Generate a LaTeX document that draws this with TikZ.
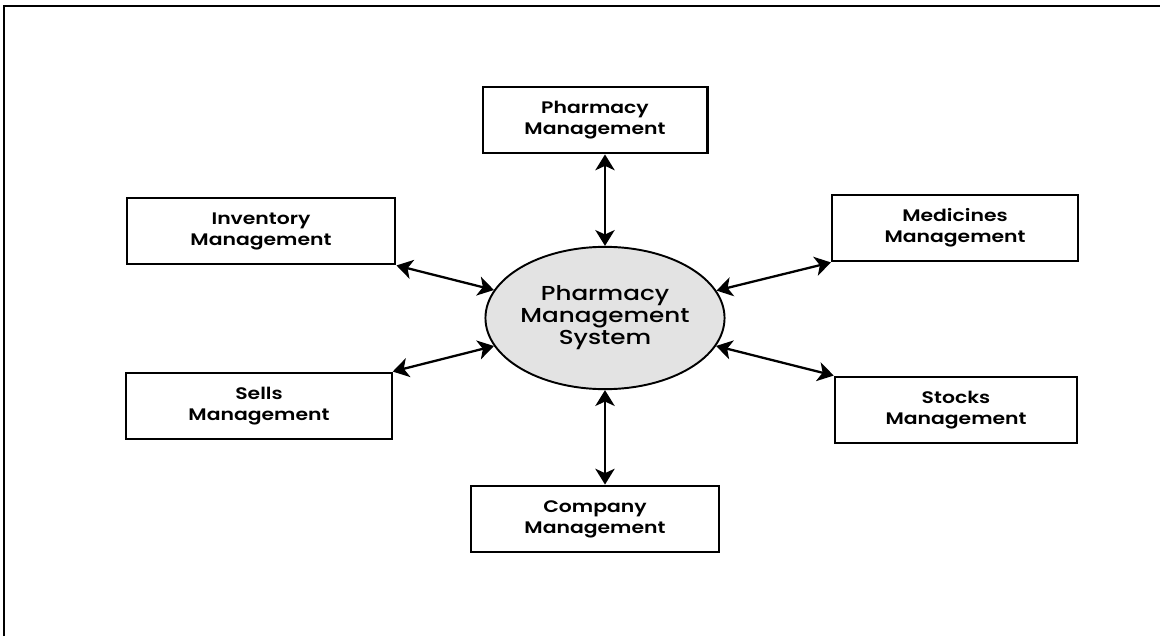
\documentclass[tikz,border=0pt]{standalone}
\usepackage{fontspec}
\setmainfont{Poppins}
\newfontfamily\widepop{Poppins Medium}[FakeStretch=1.22, BoldFont={Poppins SemiBold}, BoldFeatures={FakeStretch=1.22}]
\usetikzlibrary{arrows.meta,shapes.geometric}

\tikzset{
	modbox/.style={draw, line width=1.2pt, minimum width=#1, minimum height=38pt, align=center, font=\widepop\fontsize{9.5pt}{12pt}\selectfont\bfseries},
	modbox/.default=140pt,
	link/.style={line width=1.3pt, {Stealth[length=9pt,width=11pt,inset=2.5pt]}-{Stealth[length=9pt,width=11pt,inset=2.5pt]}}
}

\begin{document}
\begin{tikzpicture}[x=0.02cm, y=-0.02cm]
			%%%%% START %%%%%
			
			\useasboundingbox (0, 0) rectangle (1160, 636);
			\draw[line width=1.5pt] (4, 636) -- (4, 6) -- (1160, 6);
			
			\node[draw, line width=1.1pt, fill=black!11, ellipse, minimum width=136pt, minimum height=81pt, inner sep=0pt, align=center, font=\widepop\fontsize{11.5pt}{12.5pt}\selectfont] (sys) at (605, 318) {Pharmacy\\Management\\System};
			
			\node[modbox=128pt] (pharm) at (595, 120) {Pharmacy\\Management};
			\node[modbox=153pt] (inv) at (261, 231) {Inventory\\Management};
			\node[modbox=140pt] (med) at (955, 228) {Medicines\\Management};
			\node[modbox=151pt] (sells) at (259, 406) {Sells\\Management};
			\node[modbox=138pt] (stock) at (956, 410) {Stocks\\Management};
			\node[modbox=141pt] (comp) at (595, 519) {Company\\Management};
			
			\draw[link] (sys.north) -- (sys.north |- pharm.south);
			\draw[link] (sys.south) -- (sys.south |- comp.north);
			\draw[link] (inv.south east) -- (sys);
			\draw[link] (sells.north east) -- (sys);
			\draw[link] (med.south west) -- (sys);
			\draw[link] (stock.north west) -- (sys);
			
			%%%%% END %%%%%
		\end{tikzpicture}
\end{document}
